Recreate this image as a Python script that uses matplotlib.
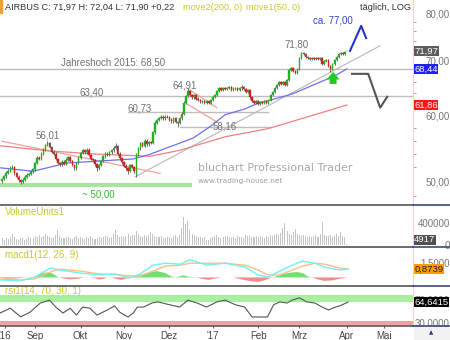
import numpy as np
import matplotlib.pyplot as plt
import matplotlib.transforms as mtransforms
from matplotlib.lines import Line2D
from matplotlib.patches import Rectangle
from matplotlib.ticker import FixedLocator, NullFormatter

plt.rcParams['font.family'] = ['Liberation Sans', 'DejaVu Sans']

W, H = 450, 340

# trading days, 0 = 1 Sep 2016 (August is negative)
days = np.arange(-16, 152)

opens = [50.0, 50.3, 50.7, 51.2, 51.5, 51.9, 52.0, 51.1, 50.6, 50.1, 49.9, 50.2, 50.6, 50.9, 51.0, 51.4,
         51.7, 52.6, 53.4, 53.2, 54.0, 54.6, 55.3, 55.6, 55.0, 54.3, 54.0, 53.2, 52.6, 52.4, 52.8, 52.5, 53.1, 53.5, 52.9, 52.3, 51.8, 52.6,
         53.4, 54.1, 54.5, 54.2, 54.6, 53.8, 53.2, 53.0, 52.4, 51.8, 52.3, 52.9, 53.6, 54.0, 53.8, 54.2, 54.5, 54.9, 55.1, 54.0, 53.3,
         52.7, 52.2, 51.8, 51.5, 52.3, 52.0, 50.8, 53.9, 54.8, 55.6, 55.2, 56.0, 55.4, 55.8, 55.7, 57.3, 58.9, 59.3, 59.7, 59.9, 59.6, 59.9,
         59.8, 59.4, 59.1, 59.6, 59.0, 58.8, 59.6, 60.4, 62.3, 63.5, 64.3, 63.6, 63.2, 63.6, 63.0, 62.7, 62.4, 62.6, 62.2, 62.5, 62.3, 62.8,
         63.3, 63.6, 64.3, 64.8, 64.6, 64.9, 64.7, 64.9, 65.0, 64.6, 64.8, 64.9, 64.5, 64.8, 65.1, 64.7, 64.1, 64.5, 63.2, 62.6, 62.3, 62.5,
         62.1, 62.4, 62.2, 62.6, 62.3, 62.7, 63.6, 64.2, 64.9, 65.4, 65.9, 65.6, 66.0, 65.5, 66.3, 68.3, 68.7, 68.0, 67.6, 68.5,
         70.6, 71.5, 71.3, 70.8, 70.6, 70.3, 70.5, 70.4, 70.6, 70.3, 70.5, 69.4, 69.9, 70.2, 69.0, 68.4, 69.3, 70.2, 70.7, 71.4, 71.6, 71.3, 71.92]
highs = [50.5, 50.9, 51.4, 51.7, 52.1, 52.3, 52.2, 51.3, 50.8, 50.3, 50.4, 50.8, 51.1, 51.2, 51.6, 51.9,
         52.8, 53.6, 53.6, 54.2, 54.8, 55.5, 56.0, 55.8, 55.2, 54.5, 54.2, 53.4, 52.8, 53.0, 53.0, 53.3, 53.7, 53.7, 53.1, 52.5, 52.8, 53.6,
         54.3, 54.7, 54.7, 54.8, 54.8, 54.0, 53.4, 53.2, 52.6, 52.5, 53.1, 53.8, 54.2, 54.2, 54.4, 54.7, 55.2, 55.6, 55.3, 54.2, 53.5,
         52.9, 52.4, 52.0, 52.5, 52.5, 52.2, 54.1, 55.0, 55.8, 55.8, 56.2, 56.2, 56.0, 56.0, 57.5, 59.1, 59.5, 59.9, 60.2, 60.1, 60.1, 60.1,
         60.0, 59.6, 59.8, 59.8, 59.2, 59.8, 60.6, 62.5, 63.7, 64.9, 64.5, 63.8, 63.8, 63.8, 63.2, 62.9, 62.8, 62.8, 62.7, 62.7, 63.0, 63.5,
         63.8, 64.5, 65.0, 65.0, 65.1, 65.1, 65.1, 65.2, 65.2, 65.0, 65.1, 65.1, 65.0, 65.5, 65.3, 64.9, 64.7, 64.7, 63.4, 62.8, 62.7, 62.7,
         62.6, 62.6, 62.8, 62.8, 62.9, 63.8, 64.4, 65.1, 65.6, 66.1, 66.1, 66.2, 66.2, 66.5, 68.5, 68.9, 68.9, 68.2, 68.7, 70.8,
         71.8, 71.7, 71.5, 71.0, 70.8, 70.7, 70.7, 70.8, 70.8, 70.7, 70.7, 70.1, 70.4, 70.4, 69.2, 69.5, 70.4, 70.9, 71.6, 71.8, 71.8, 72.0, 72.04]
lows = [49.8, 50.1, 50.5, 51.0, 51.3, 51.7, 50.9, 50.4, 49.9, 49.6, 49.7, 50.0, 50.4, 50.7, 50.8, 51.2,
        51.5, 52.4, 53.0, 53.0, 53.8, 54.4, 55.1, 54.8, 54.1, 53.8, 53.0, 52.4, 52.2, 52.2, 52.3, 52.3, 52.9, 52.7, 52.1, 51.6, 51.6, 52.4,
        53.2, 53.9, 54.0, 54.0, 53.6, 53.0, 52.8, 52.2, 51.5, 51.6, 52.1, 52.7, 53.4, 53.6, 53.6, 54.0, 54.3, 54.7, 53.8, 53.1, 52.5,
        52.0, 51.6, 51.0, 51.3, 51.8, 51.2, 50.6, 53.7, 54.6, 55.0, 55.0, 55.2, 55.2, 55.5, 55.5, 57.1, 58.7, 59.1, 59.5, 59.4, 59.4, 59.6,
        59.2, 58.9, 58.9, 58.8, 58.2, 58.6, 59.4, 60.2, 62.1, 63.3, 63.4, 63.0, 63.0, 62.8, 62.5, 62.2, 62.2, 62.0, 62.0, 62.1, 62.1, 62.6,
        63.1, 63.4, 64.1, 64.4, 64.4, 64.5, 64.5, 64.7, 64.4, 64.4, 64.6, 64.3, 64.3, 64.6, 64.5, 63.9, 63.9, 63.0, 62.4, 62.1, 62.1, 61.8,
        61.9, 62.0, 62.0, 62.1, 62.1, 62.5, 63.4, 64.0, 64.7, 65.2, 65.4, 65.4, 65.3, 65.3, 66.1, 68.1, 67.8, 67.4, 67.4, 68.3,
        70.4, 71.1, 70.6, 70.4, 70.1, 70.1, 70.2, 70.2, 70.1, 70.1, 69.2, 69.2, 69.7, 68.8, 67.9, 68.2, 69.1, 70.0, 70.5, 71.2, 71.1, 71.1, 71.90]
closes = [50.3, 50.7, 51.2, 51.5, 51.9, 52.0, 51.1, 50.6, 50.1, 49.9, 50.2, 50.6, 50.9, 51.0, 51.4, 51.7,
          52.6, 53.4, 53.2, 54.0, 54.6, 55.3, 55.6, 55.0, 54.3, 54.0, 53.2, 52.6, 52.4, 52.8, 52.5, 53.1, 53.5, 52.9, 52.3, 51.8, 52.6, 53.4,
          54.1, 54.5, 54.2, 54.6, 53.8, 53.2, 53.0, 52.4, 51.8, 52.3, 52.9, 53.6, 54.0, 53.8, 54.2, 54.5, 54.9, 55.1, 54.0, 53.3, 52.7,
          52.2, 51.8, 51.5, 52.3, 52.0, 51.4, 53.9, 54.8, 55.6, 55.2, 56.0, 55.4, 55.8, 55.7, 57.3, 58.9, 59.3, 59.7, 59.9, 59.6, 59.9, 59.8,
          59.4, 59.1, 59.6, 59.0, 58.8, 59.6, 60.4, 62.3, 63.5, 64.3, 63.6, 63.2, 63.6, 63.0, 62.7, 62.4, 62.6, 62.2, 62.5, 62.3, 62.8, 63.3,
          63.6, 64.3, 64.8, 64.6, 64.9, 64.7, 64.9, 65.0, 64.6, 64.8, 64.9, 64.5, 64.8, 65.1, 64.7, 64.1, 64.5, 63.2, 62.6, 62.3, 62.5, 62.1,
          62.4, 62.2, 62.6, 62.3, 62.7, 63.6, 64.2, 64.9, 65.4, 65.9, 65.6, 66.0, 65.5, 66.3, 68.3, 68.7, 68.0, 67.6, 68.5, 70.6,
          71.5, 71.3, 70.8, 70.6, 70.3, 70.5, 70.4, 70.6, 70.3, 70.5, 69.4, 69.9, 70.2, 69.0, 68.4, 69.3, 70.2, 70.7, 71.4, 71.6, 71.3, 71.75, 71.97]
# volume in thousands
volume = [110, 90, 120, 100, 140, 190, 130, 100, 80, 120, 110, 90, 100, 130, 110, 120,
          150, 130, 170, 140, 160, 200, 150, 130, 120, 140, 180, 260, 150, 120, 110, 130, 140, 120, 100, 130, 150, 120,
          140, 110, 100, 130, 120, 150, 110, 100, 120, 140, 110, 130, 150, 160, 120, 140, 190, 270, 170, 130, 150,
          140, 160, 200, 150, 180, 170, 250, 200, 160, 140, 180, 150, 170, 220, 190, 160, 140, 130, 150, 120, 110, 140,
          130, 120, 150, 170, 140, 180, 300, 500, 380, 430, 260, 200, 180, 150, 140, 130, 120, 140, 90, 80, 110,
          130, 150, 170, 140, 120, 130, 160, 150, 140, 120, 130, 110, 150, 140, 130, 120, 170, 150, 160, 140, 130, 150,
          140, 160, 130, 120, 150, 140, 170, 160, 180, 200, 170, 210, 300, 390, 240, 200, 180, 220, 280, 200,
          180, 160, 170, 150, 140, 160, 130, 150, 170, 140, 200, 410, 180, 160, 150, 170, 140, 160, 200, 150, 230, 160, 140,
          4.917]

month_pos = [-14.5, 0, 22, 43, 65, 86, 108, 128, 151, 169]
month_lbl = ["'16", 'Sep', 'Okt', 'Nov', 'Dez', "'17", 'Feb', 'Mrz', 'Apr', 'Mai']

ma50_day = [-17, -1, 15.5, 31.5, 47.5, 55.7, 64, 70, 76.5, 85, 92, 101.7, 108, 112.8, 124.5, 137, 145, 151]
ma50_val = [51.9, 51.4, 52.6, 52.9, 53.2, 53.9, 54.9, 55.6, 56.4, 58.3, 60.2, 61.2, 62.2, 62.6, 63.8, 65.8, 67.1, 68.44]
ma200_day = [-17, 7, 31.5, 55.7, 70, 92, 112.8, 151]
ma200_val = [55.2, 54.4, 53.9, 53.6, 54.5, 56.6, 57.9, 61.86]

macd_day = [-17, -7.3, 0, 7.3, 12.1, 21.8, 31.5, 38.7, 46, 50.8, 57.1, 63, 70.2, 75, 83.3, 92, 101.7,
            108, 112.8, 118.6, 124.5, 129.3, 135.6, 140.4, 147.7, 151.5]
macd_val = [-0.25, -0.35, 0.05, 0.97, 0.75, 0.45, 0.25, 0.35, -0.05, 0.35, 1.25, 1.45, 1.35, 1.8, 1.25, 1.45, 1.05,
            0.25, 0.05, 0.65, 1.25, 1.65, 1.45, 1.05, 0.75, 0.87]
signal_val = [-0.15, -0.25, -0.15, 0.55, 0.85, 0.65, 0.35, 0.3, 0.15, 0.15, 0.65, 1.15, 1.25, 1.45, 1.45, 1.45, 1.25,
              0.75, 0.25, 0.25, 0.75, 1.15, 1.45, 1.35, 0.95, 0.8739]
hist_day = [-17, -14, -10, -5, -1, 2, 5, 8, 11, 13, 17, 21, 24, 27, 29, 31, 33, 35, 37, 39, 42, 44, 47, 50, 55, 59,
            63, 66, 68, 70, 72, 74, 78, 81, 84, 87, 90, 96, 98, 101, 105, 108, 111, 114, 116, 120, 124, 127, 130,
            132, 134, 137, 140, 144, 147, 151]
hist_val = [-0.05, -0.15, -0.12, -0.02, 0.0, 0.3, 0.5, 0.45, 0.05, -0.08, -0.2, -0.12, 0.0, 0.0, -0.08, -0.2, -0.15,
            0.0, 0.0, -0.15, -0.25, -0.12, 0.0, 0.2, 0.5, 0.65, 0.45, 0.1, 0.0, 0.12, 0.22, 0.1, 0.0, -0.15, -0.25,
            -0.12, 0.0, 0.0, -0.1, -0.25, -0.4, -0.45, -0.3, -0.05, 0.05, 0.35, 0.5, 0.55, 0.4, 0.1, 0.0, -0.2,
            -0.35, -0.3, -0.15, -0.02]

rsi_day = [-17, -12, -7, -2.5, 2.5, 7, 10, 13.5, 17, 20, 23, 26.5, 30, 35, 38.5, 41, 45, 47.5, 49.5, 52.5, 56.5,
           59.5, 64, 70, 74, 78.5, 83, 88, 92, 97, 101.5, 105, 108, 112.5, 115.5, 118.5, 122, 124.5, 128, 131.5,
           135.5, 139, 142, 145.5, 147.5, 151.5]
rsi_val = [45.6, 54, 39, 47, 63, 68, 56, 45.6, 54, 42, 56, 54, 42, 51, 58, 47, 38.7, 45.6, 56, 56, 63,
           65, 61, 56, 68, 63, 56, 65, 68, 60, 56, 39, 38.7, 38.7, 60, 65, 63, 68, 72, 65,
           63, 56, 51, 56, 58, 64.64]

# drawn lines in the price panel
gray_trend = ([48.4, 167], [50.6, 73.0])
red_trend = ([-16, 60.5], [55.9, 51.1])
flag_top = ([75, 88], [64.5, 61.4])
flag_bot = ([73.6, 88], [62.05, 59.0])
fc_up = ([152.5, 157.9, 160.3], [71.98, 77.2, 74.6])
fc_down = ([153.5, 161.3, 167.1, 170.5], [67.5, 67.5, 61.4, 63.3])


def fy(y):
    return 1 - y / H


fig = plt.figure(figsize=(W / 100, H / 100), dpi=100, facecolor='white')
aw = 413 / W
ax = fig.add_axes([0, fy(204), aw, 194 / H])
axv = fig.add_axes([0, fy(246), aw, 40 / H], sharex=ax)
axm = fig.add_axes([0, fy(285), aw, 37 / H], sharex=ax)
axr = fig.add_axes([0, fy(325), aw, 38 / H], sharex=ax)

axis_col = '#f2dc9a'
for a in (ax, axv, axm, axr):
    for s in ('top', 'bottom', 'left'):
        a.spines[s].set_visible(False)
    a.spines['right'].set_color(axis_col)
    a.yaxis.tick_right()
    a.tick_params(axis='y', length=0, pad=26.5, labelsize=7, labelcolor='#777777')
    a.tick_params(axis='x', bottom=False, labelbottom=False)
ax.set_xlim(-17, 183)

# price panel
o = np.array(opens); c = np.array(closes); hi = np.array(highs); lo = np.array(lows)
up = c >= o
ax.vlines(days, lo, hi, color='#555555', lw=0.6, zorder=3)
ax.bar(days[up], (c - o)[up], bottom=o[up], width=0.75, color='#22b022', ec='#22b022', lw=0.3, zorder=4)
ax.bar(days[~up], (o - c)[~up], bottom=c[~up], width=0.75, color='#d62020', ec='#d62020', lw=0.3, zorder=4)

ax.set_yscale('log')
ax.set_ylim(46.9, 80.7)
ax.yaxis.set_major_locator(FixedLocator([50, 60, 70, 80]))
ax.set_yticklabels(['50,00', '60,00', '70,00', '80,00'])
ax.yaxis.set_minor_locator(FixedLocator(np.arange(48, 81, 2)))
ax.yaxis.set_minor_formatter(NullFormatter())
ax.tick_params(axis='y', which='minor', length=2, color='#999999', right=True, left=False)

lvl = '#bdbdbd'
ax.plot([-17, 183], [68.5, 68.5], color=lvl, lw=1)
ax.plot([-17, 183], [63.4, 63.4], color=lvl, lw=1)
ax.plot([45, 113], [60.73, 60.73], color=lvl, lw=1)
ax.plot([70, 114], [58.16, 58.16], color=lvl, lw=1)
ax.plot([-17, 75], [49.45, 49.45], color='#a8e4a0', lw=3)
ax.plot(*gray_trend, color='#b8b8b8', lw=0.8)
ax.plot(*red_trend, color='#f0a0a0', lw=0.9)
ax.plot(*flag_top, color='#f0a0a0', lw=0.9)
ax.plot(*flag_bot, color='#f0a0a0', lw=0.9)
ax.plot(ma200_day, ma200_val, color='#f08080', lw=0.9)
ax.plot(ma50_day, ma50_val, color='#7070ee', lw=0.9)
ax.plot(*fc_up, color='#2233cc', lw=1.5)
ax.plot(*fc_down, color='#555555', lw=1.5)
ax.annotate('', xy=(144.3, 68.4), xytext=(144.3, 65.1),
            arrowprops=dict(arrowstyle='simple,head_length=0.55,head_width=0.95,tail_width=0.5',
                            color='#22cc22', lw=0), zorder=5)

tc = '#707070'
ax.text(6, 56.8, '56,01', color=tc, fontsize=7, ha='center', va='center')
ax.text(27.6, 64.0, '63,40', color=tc, fontsize=7, ha='center', va='center')
ax.text(37.8, 69.6, 'Jahreshoch 2015: 68,50', color=tc, fontsize=7, ha='center', va='center')
ax.text(72.2, 65.4, '64,91', color=tc, fontsize=7, ha='center', va='center')
ax.text(50.8, 61.2, '60,73', color=tc, fontsize=7, ha='center', va='center')
ax.text(92, 58.3, '58,16', color=tc, fontsize=7, ha='center', va='center')
ax.text(126.4, 73.2, '71,80', color=tc, fontsize=7, ha='center', va='center')
ax.text(144.3, 78.3, 'ca. 77,00', color='#3344cc', fontsize=7, ha='center', va='center')
ax.text(30.5, 48.2, '~ 50,00', color='#33bb33', fontsize=7, ha='center', va='center')
ax.text(0.479, 0.186, 'bluchart Professional Trader', transform=ax.transAxes, color='#a8a8a8',
        fontsize=7.9, family='DejaVu Sans', va='center')
ax.text(0.479, 0.119, 'www.trading-house.net', transform=ax.transAxes, color='#a0a0a0',
        fontsize=5.3, family='DejaVu Sans', va='center')


def value_box(a, v, txt, fc, tcol='white', va='center'):
    tr = mtransforms.blended_transform_factory(a.transAxes, a.transData)
    a.text(1.003, v, txt, transform=tr, color=tcol, fontsize=6.8, ha='left', va=va, clip_on=False,
           bbox=dict(boxstyle='square,pad=0.06', fc=fc, ec='none'), zorder=10)


value_box(ax, 71.97, '71,97', '#5c5c5c')
value_box(ax, 68.44, '68,44', '#1f1ff0')
value_box(ax, 61.86, '61,86', '#ff1515')

# volume panel
axv.bar(days, np.array(volume) * 1000, width=0.5, color='#c4c4c4')
axv.set_ylim(-27000, 700000)
axv.set_yticks([0, 400000])
axv.set_yticklabels(['0', '400000'])
axv.text(0.012, 0.85, 'VolumeUnits1', transform=axv.transAxes, color='#c8c832', fontsize=7, va='center')
value_box(axv, 4917, '4917', '#505050', va='bottom')

# macd panel
hv = np.array(hist_val)
axm.fill_between(hist_day, 0, hv, where=hv >= 0, interpolate=True, color='#70e070', lw=0)
axm.fill_between(hist_day, 0, hv, where=hv <= 0, interpolate=True, color='#f28c8c', lw=0)
axm.plot(macd_day, signal_val, color='#f8c088', lw=1)
axm.plot(macd_day, macd_val, color='#70f0f0', lw=1)
axm.set_ylim(-0.77, 3.0)
axm.set_yticks([1.5])
axm.set_yticklabels(['1,5000'])
axm.text(0.012, 0.81, 'macd1(12, 26, 9)', transform=axm.transAxes, color='#c8c832', fontsize=7, va='center')
value_box(axm, 0.8739, '0,8739', '#ff9a00', tcol='#222222')

# rsi panel
axr.axhspan(64.8, 77, color='#a8f0a0', lw=0)
axr.axhspan(23, 31.7, color='#f4a0a0', lw=0)
axr.plot(rsi_day, rsi_val, color='#555555', lw=0.8)
axr.set_ylim(24.8, 90.9)
axr.set_yticks([30, 70])
axr.set_yticklabels(['30,0000', '70,0000'])
axr.text(0.012, 0.895, 'rsi1(14, 70, 30, 1)', transform=axr.transAxes, color='#c8c832', fontsize=7, va='center')
value_box(axr, 64.64, '64,6415', '#000000')

axr.set_xticks(month_pos)
axr.set_xticklabels(month_lbl)
axr.tick_params(axis='x', bottom=True, labelbottom=True, length=2, color='#666666', pad=2,
                labelsize=7, labelcolor='#444444')

for a in (ax, axv, axm, axr):
    for t in a.get_yticklabels():
        t.set_ha('right')

# panel separators and header
for y in (205, 247, 286, 326):
    fig.add_artist(Line2D([0, aw], [fy(y), fy(y)], color='#555555', lw=1.2))
    fig.add_artist(Line2D([aw, 1], [fy(y), fy(y)], color='#3c4a78', lw=1.2))
fig.add_artist(Line2D([aw, aw], [fy(0), fy(10)], color=axis_col, lw=1))
fig.add_artist(Rectangle((0, fy(13)), 2 / W, 13 / H, transform=fig.transFigure, color='#f0a030'))
fig.add_artist(Rectangle((aw + 0.002, 0), 1 - aw, 13 / H, transform=fig.transFigure, fc='#f2f2f2', ec='none'))
fig.text(431 / W, fy(333), '▲', fontsize=4, color='#223388', ha='center', va='center', family='DejaVu Sans')

fig.text(5 / W, fy(7), 'AIRBUS C: 71,97 H: 72,04 L: 71,90 +0,22', color='#333333', fontsize=6.6, va='center')
fig.text(183 / W, fy(7), 'move2(200, 0)', color='#c8c832', fontsize=6.6, va='center')
fig.text(246 / W, fy(7), 'move1(50, 0)', color='#c8c832', fontsize=6.6, va='center')
fig.text(411 / W, fy(7), 'täglich, LOG', color='#333333', fontsize=6.6, va='center', ha='right')

fig.savefig('out.png', dpi=100, facecolor='white')
